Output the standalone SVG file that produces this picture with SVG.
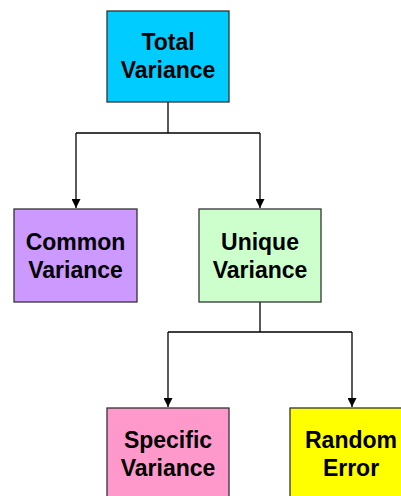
<svg xmlns="http://www.w3.org/2000/svg" width="401" height="496" viewBox="0 0 401 496">
  <style>
    .box { stroke: #333333; stroke-width: 1.3; }
    .lbl { font-family: "Liberation Sans", Arial, sans-serif; font-weight: bold; font-size: 23px; fill: #000000; text-anchor: middle; }
    .wire { fill: none; stroke: #000000; stroke-width: 1.3; }
  </style>
  <defs>
    <marker id="arrow" viewBox="0 0 10 10" refX="10" refY="5" markerWidth="10" markerHeight="9" markerUnits="userSpaceOnUse" orient="auto">
      <path d="M0,0 L10,5 L0,10 z" fill="#000000"/>
    </marker>
  </defs>
  <rect width="401" height="496" fill="#ffffff"/>

  <g id="connectors">
    <path class="wire" d="M168,102 V133 M76,133 H260"/>
    <path class="wire" d="M76,133 V208" marker-end="url(#arrow)"/>
    <path class="wire" d="M260,133 V208" marker-end="url(#arrow)"/>
    <path class="wire" d="M260,302 V332 M168,332 H352"/>
    <path class="wire" d="M168,332 V407" marker-end="url(#arrow)"/>
    <path class="wire" d="M352,332 V407" marker-end="url(#arrow)"/>
  </g>

  <g id="total-variance">
    <rect class="box" x="107" y="11" width="122" height="91" fill="#00CCFF"/>
    <text class="lbl" x="168" y="50">Total</text>
    <text class="lbl" x="168" y="78">Variance</text>
  </g>

  <g id="common-variance">
    <rect class="box" x="14" y="209" width="123" height="93" fill="#CC99FF"/>
    <text class="lbl" x="75.5" y="249.5">Common</text>
    <text class="lbl" x="75.5" y="277.5">Variance</text>
  </g>

  <g id="unique-variance">
    <rect class="box" x="199" y="209" width="122" height="93" fill="#CCFFCC"/>
    <text class="lbl" x="260" y="249.5">Unique</text>
    <text class="lbl" x="260" y="277.5">Variance</text>
  </g>

  <g id="specific-variance">
    <rect class="box" x="107" y="408" width="122" height="93" fill="#FF99CC"/>
    <text class="lbl" x="168" y="448">Specific</text>
    <text class="lbl" x="168" y="476">Variance</text>
  </g>

  <g id="random-error">
    <rect class="box" x="290" y="408" width="122" height="93" fill="#FFFF00"/>
    <text class="lbl" x="351" y="448">Random</text>
    <text class="lbl" x="351" y="476">Error</text>
  </g>
</svg>
